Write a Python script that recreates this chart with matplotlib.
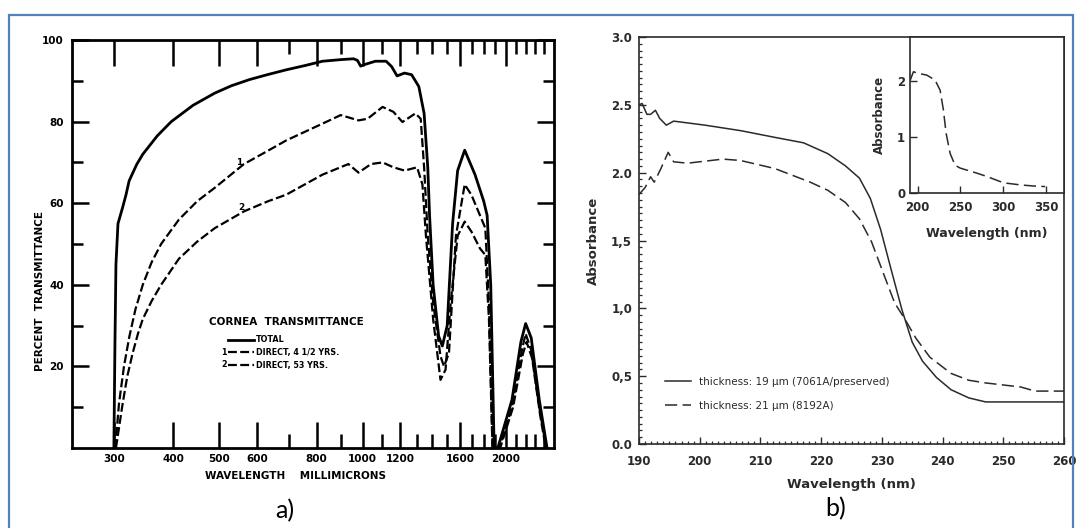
import matplotlib
matplotlib.use("Agg")
import matplotlib.pyplot as plt
from matplotlib.ticker import FixedLocator, NullFormatter, MultipleLocator
from matplotlib.patches import Rectangle

# ---- a) cornea transmittance (wavelength in millimicrons, percent) ----
wl_total = [300, 301.5, 303, 306, 313, 318, 323, 335, 345, 370, 396, 440, 489,
            530, 578, 630, 691, 760, 823, 900, 957, 975, 990, 1010, 1063, 1120,
            1150, 1181, 1224, 1267, 1312, 1346, 1370, 1382, 1406, 1444, 1470,
            1505, 1545, 1583, 1638, 1722, 1796, 1826, 1858, 1889, 1923, 2059,
            2150, 2200, 2260, 2350, 2440]
pct_total = [0, 25, 45, 55, 59, 62, 65.5, 69.5, 72, 76.5, 80, 84, 87,
             88.8, 90.3, 91.5, 92.7, 93.8, 94.8, 95.2, 95.4, 95, 93.6, 94, 94.8, 94.8,
             93.5, 91.2, 91.9, 91.5, 88.6, 82, 68.8, 57, 40, 27.4, 25,
             30, 55, 68, 73, 67, 60.5, 57, 40, 0, 0, 11.8,
             26, 30.5, 27, 11.8, 0]

wl_direct1 = [302, 307.5, 315, 323.4, 333, 345, 360, 377, 411, 449, 489, 563,
              633, 691, 823, 899, 980, 1024, 1101, 1160, 1212, 1290, 1324, 1346,
              1370, 1406, 1457, 1482, 1518, 1570, 1638, 1693, 1764, 1810, 1842,
              1874, 1935, 2060, 2160, 2200, 2260, 2350, 2430]
pct_direct1 = [0, 10.9, 20, 27.4, 34, 40, 45.5, 50, 56, 60.5, 63.8, 69.6,
               72.9, 75.4, 79.5, 81.6, 80.3, 80.7, 83.6, 82.4, 79.9, 82, 80.7, 68.8,
               52, 35.7, 22.5, 20, 23.3, 52, 64.6, 62, 57, 53.9, 35.7,
               0, 0, 10, 24, 28, 24, 10, 0]

wl_direct2 = [303, 313, 320, 328.6, 337, 345, 360, 377, 411, 449, 489, 563,
              633, 691, 823, 933, 980, 1041, 1101, 1160, 1224, 1301, 1335, 1358,
              1406, 1457, 1493, 1531, 1583, 1638, 1693, 1764, 1810, 1842, 1874,
              1945, 2070, 2170, 2210, 2270, 2360, 2425]
pct_direct2 = [0, 10.9, 17.5, 23.3, 28, 31.6, 36, 40, 46.4, 50.6, 53.9, 58,
               60.5, 62.1, 67, 69.6, 67.5, 69.6, 70, 68.8, 68, 68.8, 64.6, 52,
               31.6, 16.7, 19.2, 35.7, 52, 55.5, 53, 48.9, 47.3, 31.6, 0,
               0, 10, 23, 26, 22, 8, 0]

a_major = [300, 400, 500, 600, 800, 1000, 1200, 1600, 2000]
a_minor = [700, 900, 1100, 1300, 1400, 1500, 1700, 1800, 1900,
           2100, 2200, 2300, 2400]
a_yticks = [20, 40, 60, 80, 100]

# ---- b) absorbance of the films ----
nm_19 = [190, 190.5, 191.3, 191.9, 192.7, 193.4, 194.5, 195.7, 200.9, 206.7,
         212.4, 217.1, 221.1, 224, 226.3, 228.1, 229.8, 231.5, 233.3, 235,
         236.7, 239, 241.4, 244.3, 247.1, 252.9, 260]
abs_19 = [2.50, 2.51, 2.43, 2.43, 2.46, 2.40, 2.35, 2.38, 2.35, 2.31,
          2.26, 2.22, 2.14, 2.05, 1.96, 1.81, 1.58, 1.29, 0.99, 0.75,
          0.61, 0.49, 0.40, 0.34, 0.31, 0.31, 0.31]

nm_21 = [190, 191, 191.9, 192.5, 193.6, 194.8, 195.7, 198, 203.8, 206.7,
         212.4, 218.2, 221.1, 224, 226.3, 228.3, 230.4, 232.1, 233.8, 235.6,
         237.9, 241.4, 244.3, 247.1, 252.9, 255.2, 260]
abs_21 = [1.84, 1.89, 1.97, 1.93, 2.03, 2.15, 2.08, 2.07, 2.10, 2.09,
          2.03, 1.93, 1.87, 1.78, 1.66, 1.49, 1.24, 1.04, 0.92, 0.78,
          0.64, 0.52, 0.47, 0.45, 0.42, 0.39, 0.39]

b_ylabels = ["0.0", "0,5", "1,0", "1,5", "2.0", "2.5", "3.0"]

# inset: wider wavelength range, 21 um film
nm_inset = [191, 195, 200.8, 210.6, 220.3, 226.2, 230, 233.2, 237.9, 243.7,
            249.6, 269, 280.8, 296.3, 304.1, 319.6, 335.2, 348.9]
abs_inset = [2.0, 2.16, 2.13, 2.10, 2.01, 1.83, 1.48, 1.06, 0.70, 0.49,
             0.44, 0.35, 0.29, 0.20, 0.17, 0.14, 0.12, 0.11]

plt.rcParams['font.family'] = ['DejaVu Sans']

fig = plt.figure(figsize=(10.8, 5.28), dpi=100)

# ---------------- panel a ----------------
ax = fig.add_axes([0.0667, 0.1515, 0.446, 0.7727])
ax.set_xscale('log')
l_tot, = ax.plot(wl_total, pct_total, color='black', lw=2.0)
l_d1, = ax.plot(wl_direct1, pct_direct1, color='black', lw=1.6, dashes=(4, 1.5))
l_d2, = ax.plot(wl_direct2, pct_direct2, color='black', lw=1.6, dashes=(4, 1.5))
ax.set_xlim(245, 2520)
ax.set_ylim(0, 100)

ax.xaxis.set_major_locator(FixedLocator(a_major))
ax.xaxis.set_minor_locator(FixedLocator(a_minor))
ax.set_xticklabels([str(v) for v in a_major])
ax.xaxis.set_minor_formatter(NullFormatter())
ax.set_yticks(a_yticks)
ax.set_yticks([10, 30, 50, 70, 90], minor=True)

ax.tick_params(axis='x', which='major', direction='in', length=19, width=1.8,
               top=True, pad=4, labelsize=7.5)
ax.tick_params(axis='x', which='minor', direction='in', length=10, width=1.8,
               top=True)
ax.tick_params(axis='y', which='major', direction='in', length=12, width=1.8,
               right=True, pad=6, labelsize=7.5)
ax.tick_params(axis='y', which='minor', direction='in', length=8, width=1.8,
               right=True)
for lab in ax.get_xticklabels() + ax.get_yticklabels():
    lab.set_fontweight('bold')
for s in ax.spines.values():
    s.set_linewidth(2.0)

ax.set_xlabel("WAVELENGTH    MILLIMICRONS", fontsize=7.5, fontweight='bold')
ax.set_ylabel("PERCENT  TRANSMITTANCE", fontsize=7.5, fontweight='bold')
ax.xaxis.set_label_coords(0.464, -0.056)
ax.yaxis.set_label_coords(-0.056, 0.386)
ax.text(550, 70, "1", fontsize=6.5, fontweight='bold', ha='center', va='center')
ax.text(555, 58.9, "2", fontsize=6.5, fontweight='bold', ha='center', va='center')

ax.text(0.445, 0.31, "CORNEA  TRANSMITTANCE", transform=ax.transAxes,
        fontsize=7.5, fontweight='bold', ha='center', va='center')
leg_a = ax.legend([l_tot, l_d1, l_d2],
                  ["TOTAL", "DIRECT, 4 1/2 YRS.", "DIRECT, 53 YRS."],
                  loc='upper left', bbox_to_anchor=(0.324, 0.276), frameon=False,
                  prop=dict(weight='bold', size=5.8),
                  handlelength=3.2, handletextpad=0.3, labelspacing=0.45,
                  borderpad=0, borderaxespad=0)

# ---------------- panel b ----------------
ink = '#2a2a2a'
axb = fig.add_axes([0.5917, 0.1591, 0.3935, 0.7708])
axb.plot(nm_19, abs_19, color=ink, lw=1.1,
         label="thickness: 19 \u00b5m (7061A/preserved)")
axb.plot(nm_21, abs_21, color=ink, lw=1.1, dashes=(8, 3.5),
         label="thickness: 21 \u00b5m (8192A)")
axb.set_xlim(190, 260)
axb.set_ylim(0, 3)
axb.set_xticks(range(190, 261, 10))
axb.xaxis.set_minor_locator(MultipleLocator(1))
axb.set_yticks([0, 0.5, 1, 1.5, 2, 2.5, 3])
axb.set_yticklabels(b_ylabels)
axb.yaxis.set_minor_locator(MultipleLocator(0.05))
axb.tick_params(which='major', direction='in', length=5, width=1, color=ink,
                labelsize=8.5, labelcolor=ink)
axb.tick_params(axis='x', which='major', pad=8)
axb.tick_params(axis='y', which='major', pad=5)
axb.tick_params(which='minor', direction='in', length=2.5, width=0.9, color=ink)
for lab in axb.get_xticklabels() + axb.get_yticklabels():
    lab.set_fontweight('bold')
for s in axb.spines.values():
    s.set_linewidth(1.2)
    s.set_color(ink)
axb.set_xlabel("Wavelength (nm)", fontsize=9.5, color=ink, fontweight='bold',
               labelpad=7)
axb.set_ylabel("Absorbance", fontsize=9.5, color=ink, fontweight='bold',
               labelpad=8)
axb.legend(loc='lower left', bbox_to_anchor=(0.06, 0.082), frameon=False,
           fontsize=7.5, handlelength=2.5, handletextpad=0.8, labelspacing=1.3,
           borderpad=0, borderaxespad=0, labelcolor=ink)

# inset
axi = fig.add_axes([0.8426, 0.635, 0.1426, 0.2949])
axi.plot(nm_inset, abs_inset, color=ink, lw=1.1, dashes=(8, 3.5))
axi.set_xlim(191, 371)
axi.set_ylim(0, 2.78)
axi.set_xticks([200, 250, 300, 350])
axi.set_yticks([0, 1, 2])
axi.tick_params(direction='in', length=5, width=1, color=ink, labelsize=8.5,
                labelcolor=ink)
axi.tick_params(axis='x', pad=6)
for lab in axi.get_xticklabels() + axi.get_yticklabels():
    lab.set_fontweight('bold')
for s in axi.spines.values():
    s.set_linewidth(1.2)
    s.set_color(ink)
axi.set_xlabel("Wavelength (nm)", fontsize=9, color=ink, fontweight='bold',
               labelpad=9)
axi.set_ylabel("Absorbance", fontsize=8.5, color=ink, fontweight='bold',
               labelpad=8)

# number tags in front of the direct-transmittance legend rows
fig.canvas.draw()
renderer = fig.canvas.get_renderer()
for h, tag in zip(leg_a.legend_handles[1:], ["1", "2"]):
    bb = h.get_window_extent(renderer)
    x, y = fig.transFigure.inverted().transform((bb.x0, (bb.y0 + bb.y1) / 2))
    fig.text(x - 0.001, y, tag, fontsize=5.8, fontweight='bold',
             ha='right', va='center')

# panel captions and blue frame
fig.text(0.264, 0.033, "a)", fontsize=18, family=['Lato', 'DejaVu Sans'],
         ha='center', va='center')
fig.text(0.774, 0.036, "b)", fontsize=18, family=['Lato', 'DejaVu Sans'],
         ha='center', va='center')
fig.add_artist(Rectangle((9 / 1080, -0.1), (1073 - 9) / 1080, 1.1 - 15 / 528,
                         transform=fig.transFigure, fill=False,
                         edgecolor='#4f81bd', lw=1.6))

fig.savefig("out.png", dpi=100, facecolor='white')
